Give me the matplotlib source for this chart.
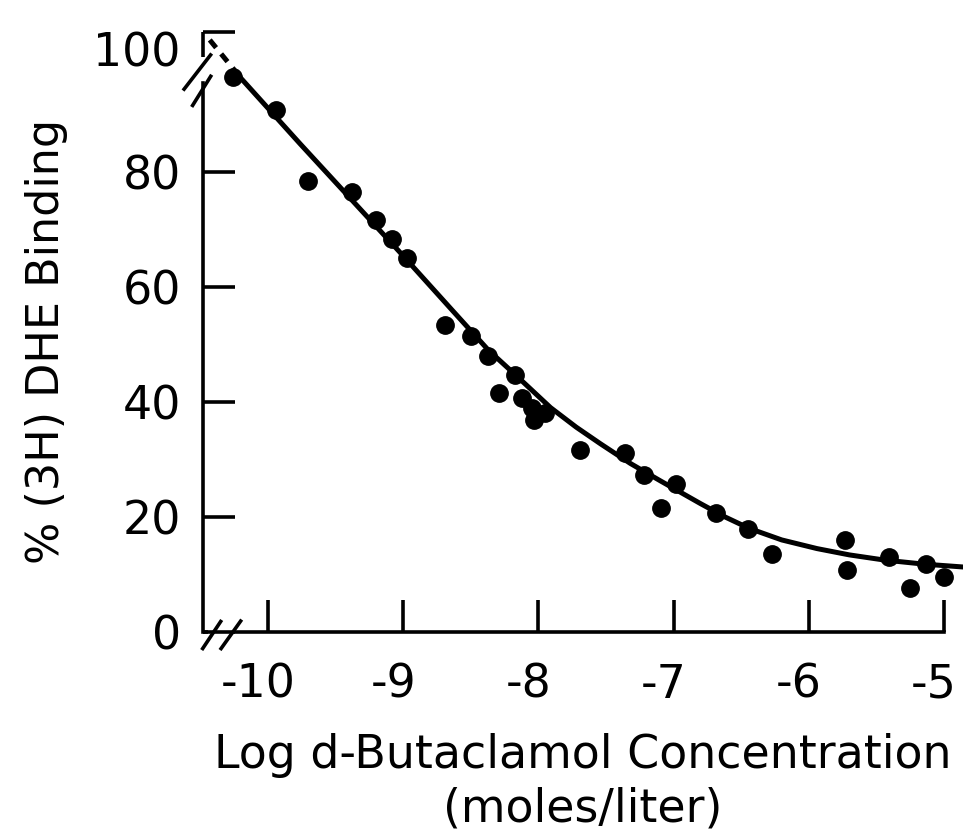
import matplotlib
matplotlib.use("Agg")
import matplotlib.pyplot as plt
from matplotlib.transforms import ScaledTranslation

plt.rcParams['font.family'] = ['DejaVu Sans']

# measured binding points (log concentration, % binding)
log_conc = [-10.26, -9.94, -9.70, -9.38, -9.20, -9.08, -8.97, -8.69, -8.50, -8.37,
            -8.29, -8.17, -8.12, -8.05, -8.03, -7.95, -7.69, -7.36, -7.22, -7.09,
            -6.98, -6.69, -6.45, -6.27, -5.73, -5.72, -5.41, -5.25, -5.13, -5.00]
binding = [96.5, 90.8, 78.3, 76.5, 71.6, 68.3, 65.0, 53.3, 51.4, 47.9,
           41.6, 44.7, 40.6, 38.9, 36.8, 38.1, 31.6, 31.1, 27.3, 21.5,
           25.7, 20.6, 17.9, 13.6, 16.0, 10.8, 13.1, 7.6, 11.9, 9.6]

# fitted curve
curve_x = [-10.43, -10.19, -9.76, -9.38, -9.02, -8.64, -8.37, -8.17, -7.91,
           -7.72, -7.54, -7.32, -7.10, -6.80, -6.62, -6.44, -6.20, -5.94,
           -5.70, -5.44, -5.15, -4.86]
curve_y = [102.9, 96.0, 84.8, 75.1, 65.9, 56.0, 49.0, 44.7, 39.0,
           35.6, 32.7, 29.3, 26.3, 22.3, 20.0, 18.0, 16.0, 14.5,
           13.4, 12.5, 11.8, 11.3]

x_ticks = [-10, -9, -8, -7, -6, -5]
y_ticks = [0, 20, 40, 60, 80]
y_top_pos = 104.3  # where the broken axis puts "100"

fig = plt.figure(figsize=(9.64, 8.4), dpi=100)
ax = fig.add_axes([203 / 964, 208 / 840, 760 / 964, 607 / 840])
ax.set_xlim(-10.48, -4.86)
ax.set_ylim(0, 105.5)

lw = 2.6
ax.plot(curve_x[:2], curve_y[:2], color='black', lw=3.6, ls=(0, (2, 1.6)),
        solid_capstyle='butt')
ax.plot(curve_x[1:], curve_y[1:], color='black', lw=3.6)
ax.plot(log_conc, binding, 'o', color='black', ms=12.5)

for side in ['top', 'right']:
    ax.spines[side].set_visible(False)
ax.spines['left'].set_linewidth(lw)
ax.spines['bottom'].set_linewidth(lw)
ax.spines['left'].set_bounds(0, 95.4)
ax.spines['bottom'].set_bounds(-10.245, -5)

# broken axis pieces and break marks
k = dict(transform=ax.transAxes, color='black', lw=lw, clip_on=False,
         solid_capstyle='butt')
ax.plot([0, 0], [99.9 / 105.5, y_top_pos / 105.5], **k)
ax.plot([-0.0263, 0.0114], [0.892, 0.953], **k)
ax.plot([-0.0149, 0.0114], [0.865, 0.918], **k)
ax.plot([0, 0.007], [0, 0], **k)
ax.plot([-0.0017, 0.0246], [-0.0297, 0.0198], **k)
ax.plot([0.0224, 0.0509], [-0.0297, 0.0204], **k)

ax.set_xticks(x_ticks)
ax.set_xticklabels([str(t) for t in x_ticks])
ax.set_yticks(y_ticks + [y_top_pos])
ax.set_yticklabels([str(t) for t in y_ticks] + ['100'])
ax.tick_params(direction='in', length=23, width=lw, labelsize=33)
ax.tick_params(axis='x', pad=22)
ax.tick_params(axis='y', pad=16)
ax.get_yticklabels()[-1].set_va('top')

# digits sit over the tick, the minus hangs to the left
shift = ScaledTranslation(-10 / 100, 0, fig.dpi_scale_trans)
for lab in ax.get_xticklabels():
    lab.set_transform(lab.get_transform() + shift)

ax.set_xlabel('Log d-Butaclamol Concentration\n(moles/liter)', fontsize=33,
              linespacing=1.25, labelpad=18)
ax.set_ylabel('% (3H) DHE Binding', fontsize=32)
ax.yaxis.set_label_coords(-0.178, 0.478)

fig.savefig('out.png', dpi=100)
